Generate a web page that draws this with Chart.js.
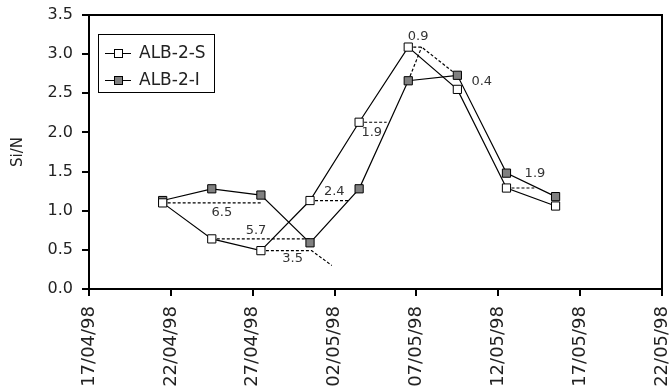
<!DOCTYPE html>
<html>
<head>
<meta charset="utf-8">
<script src="https://cdn.jsdelivr.net/npm/chart.js@4"></script>
<style>
  html, body { margin: 0; padding: 0; background: #fff; }
  #chart { display: block; }
</style>
</head>
<body>
<canvas id="chart" width="669" height="391"></canvas>
<script>
const tickLabels = ['17/04/98', '22/04/98', '27/04/98', '02/05/98', '07/05/98', '12/05/98', '17/05/98', '22/05/98'];
const sampleDates = ['21/04/98', '24/04/98', '27/04/98', '30/04/98', '03/05/98', '06/05/98', '09/05/98', '12/05/98', '15/05/98'];
const surfaceSiN = [1.10, 0.64, 0.49, 1.13, 2.13, 3.09, 2.55, 1.29, 1.06];
const bottomSiN = [1.13, 1.28, 1.20, 0.59, 1.28, 2.66, 2.73, 1.48, 1.18];

// dotted guides, x in days after 17/04/98
const guideLines = [
  [[4.5, 1.10], [10.5, 1.10]],
  [[7.5, 0.64], [13.5, 0.64]],
  [[10.5, 0.49], [13.6, 0.49], [14.83, 0.30]],
  [[13.5, 1.13], [15.84, 1.13]],
  [[16.5, 2.13], [18.18, 2.13]],
  [[19.5, 3.09], [20.32, 3.09], [22.5, 2.73]],
  [[19.5, 2.66], [20.32, 3.09]],
  [[25.5, 1.29], [27.2, 1.29]],
];
const guideLabels = ['6.5', '5.7', '3.5', '2.4', '1.9', '0.9', '0.4', '1.9'];
const guideLabelX = [8.12, 10.2, 12.44, 14.98, 17.27, 20.1, 23.99, 27.24];
const guideLabelY = [0.98, 0.75, 0.39, 1.25, 2.00, 3.22, 2.65, 1.48];

const FONT = "'DejaVu Sans', sans-serif";

function dayOffset(s) {
  const [d, m, y] = s.split('/').map(Number);
  const t = Date.UTC(1900 + y, m - 1, d);
  const [d0, m0, y0] = tickLabels[0].split('/').map(Number);
  return (t - Date.UTC(1900 + y0, m0 - 1, d0)) / 86400000;
}
const sampleX = sampleDates.map(s => dayOffset(s) + 0.5);

const seriesStyle = (label, values, fill) => ({
  label,
  data: values.map((v, i) => ({ x: sampleX[i], y: v })),
  borderColor: '#000',
  borderWidth: 1.2,
  pointStyle: 'rect',
  pointRadius: 5.8,
  pointBackgroundColor: fill,
  pointBorderColor: '#000',
  pointBorderWidth: 1,
  showLine: true,
  tension: 0,
});

const datasets = [
  seriesStyle('ALB-2-S', surfaceSiN, '#ffffff'),
  seriesStyle('ALB-2-I', bottomSiN, '#808080'),
  ...guideLines.map(g => ({
    label: 'guide',
    data: g.map(p => ({ x: p[0], y: p[1] })),
    borderColor: '#000',
    borderWidth: 1.2,
    borderDash: [3, 2],
    pointRadius: 0,
    showLine: true,
  })),
];

const framePlugin = {
  id: 'frame',
  afterDatasetsDraw(chart) {
    const { ctx, chartArea: a } = chart;
    ctx.save();
    ctx.strokeStyle = '#000';
    ctx.lineWidth = 2;
    ctx.beginPath();
    ctx.moveTo(a.left, a.top);
    ctx.lineTo(a.right, a.top);
    ctx.lineTo(a.right, a.bottom);
    ctx.stroke();
    ctx.restore();
  },
};

const labelPlugin = {
  id: 'guideLabels',
  afterDatasetsDraw(chart) {
    const { ctx, scales: { x, y } } = chart;
    ctx.save();
    ctx.font = '13px ' + FONT;
    ctx.fillStyle = '#333';
    ctx.textAlign = 'center';
    ctx.textBaseline = 'middle';
    guideLabels.forEach((t, i) => {
      ctx.fillText(t, x.getPixelForValue(guideLabelX[i]), y.getPixelForValue(guideLabelY[i]));
    });
    ctx.restore();
  },
};

const legendPlugin = {
  id: 'boxLegend',
  afterDraw(chart) {
    const { ctx, chartArea: a } = chart;
    const bx = a.left + 9, by = a.top + 19, bw = 116, bh = 58;
    ctx.save();
    ctx.fillStyle = '#fff';
    ctx.fillRect(bx, by, bw, bh);
    ctx.strokeStyle = '#000';
    ctx.lineWidth = 1;
    ctx.strokeRect(bx + 0.5, by + 0.5, bw, bh);
    ctx.font = '17px ' + FONT;
    ctx.textBaseline = 'middle';
    ctx.textAlign = 'left';
    chart.data.datasets.slice(0, 2).forEach((ds, i) => {
      const cy = by + 19 + i * 27;
      ctx.strokeStyle = '#000';
      ctx.beginPath();
      ctx.moveTo(bx + 7, cy + 0.5);
      ctx.lineTo(bx + 33, cy + 0.5);
      ctx.stroke();
      ctx.fillStyle = ds.pointBackgroundColor;
      ctx.fillRect(bx + 16, cy - 4, 8, 8);
      ctx.strokeRect(bx + 16.5, cy - 3.5, 8, 8);
      ctx.fillStyle = '#222';
      ctx.fillText(ds.label, bx + 41, cy + 1);
    });
    ctx.restore();
  },
};

new Chart(document.getElementById('chart'), {
  type: 'scatter',
  data: { datasets },
  options: {
    responsive: false,
    animation: false,
    devicePixelRatio: 1,
    layout: { padding: { top: 15, right: 7, left: 0, bottom: 0 } },
    plugins: { legend: { display: false }, tooltip: { enabled: false } },
    scales: {
      x: {
        type: 'linear',
        min: 0,
        max: 35,
        afterFit(s) { s.height = 102; s.paddingLeft = 0; s.paddingRight = 0; },
        ticks: {
          stepSize: 5,
          minRotation: 90,
          maxRotation: 90,
          padding: 10,
          color: '#222',
          font: { family: FONT, size: 18 },
          callback: (v, i) => tickLabels[i],
        },
        grid: { drawOnChartArea: false, drawTicks: true, tickLength: 7, color: '#000', lineWidth: 2 },
        border: { display: true, color: '#000', width: 2 },
      },
      y: {
        min: 0,
        max: 3.5,
        afterFit(s) { s.width = 89; s.paddingTop = 0; s.paddingBottom = 0; },
        ticks: {
          stepSize: 0.5,
          padding: 9,
          color: '#222',
          font: { family: FONT, size: 16 },
          callback: v => v.toFixed(1),
        },
        title: {
          display: true,
          text: 'Si/N',
          color: '#222',
          font: { family: FONT, size: 15 },
          padding: { top: 9, bottom: 0 },
        },
        grid: { drawOnChartArea: false, drawTicks: true, tickLength: 7, color: '#000', lineWidth: 2 },
        border: { display: true, color: '#000', width: 2 },
      },
    },
  },
  plugins: [framePlugin, labelPlugin, legendPlugin],
});
</script>
</body>
</html>
